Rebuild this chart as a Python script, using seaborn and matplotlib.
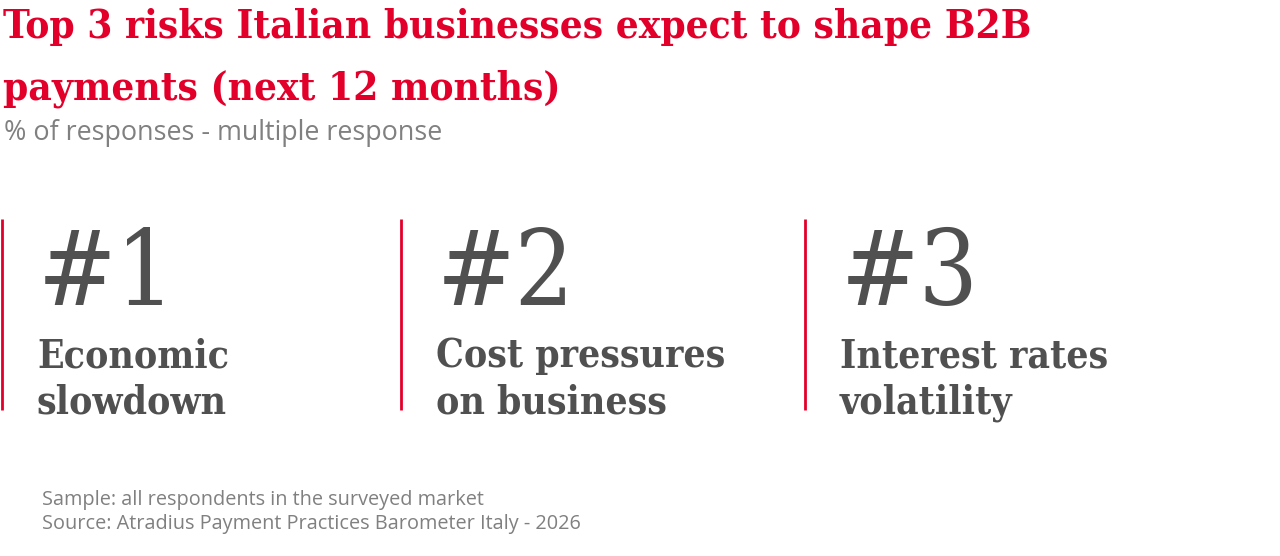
import matplotlib.pyplot as plt
import seaborn as sns

# Dados do infográfico
ranks = ["#1", "#2", "#3"]
risks = ["Economic\nslowdown", "Cost pressures\non business", "Interest rates\nvolatility"]
title = "Top 3 risks Italian businesses expect to shape B2B\npayments (next 12 months)"
subtitle = "% of responses - multiple response"
footnote = "Sample: all respondents in the surveyed market\nSource: Atradius Payment Practices Barometer Italy - 2026"

RED = "#E2002B"
DARK = "#505050"
GREY = "#808080"

sns.set_theme(style="white")
plt.rcParams["font.family"] = ["DejaVu Serif"]
SANS = ["Open Sans", "DejaVu Sans"]

fig = plt.figure(figsize=(12.8, 5.56), dpi=100)
ax = fig.add_axes([0, 0, 1, 1])
ax.set_xlim(0, 1280)
ax.set_ylim(556, 0)
ax.axis("off")

# Título e subtítulo
t1, t2 = title.split("\n")
ax.text(3, 38, t1, color=RED, fontsize=29, va="baseline", fontweight="bold", fontstretch="condensed")
ax.text(3, 100, t2, color=RED, fontsize=29, va="baseline", fontweight="bold", fontstretch="condensed")
ax.text(4, 140, subtitle, color=GREY, fontsize=19.4, va="baseline", family=SANS)

# Colunas com ranking
col_x = [2, 401, 805]
for i, (rank, risk) in enumerate(zip(ranks, risks)):
    x = col_x[i]
    ax.vlines(x, 219, 410, color=RED, lw=2)
    ax.text(x + 36, 305, rank, color=DARK, fontsize=75, va="baseline", fontstretch="condensed")
    l1, l2 = risk.split("\n")
    ax.text(x + 35, 367, l1, color=DARK, fontsize=28, va="baseline", fontweight="bold", fontstretch="condensed")
    ax.text(x + 35, 413, l2, color=DARK, fontsize=28, va="baseline", fontweight="bold", fontstretch="condensed")

# Rodapé
f1, f2 = footnote.split("\n")
ax.text(42, 505, f1, color=GREY, fontsize=14.3, va="baseline", family=SANS)
ax.text(42, 529, f2, color=GREY, fontsize=14.3, va="baseline", family=SANS)

plt.savefig("out.png", dpi=100)
